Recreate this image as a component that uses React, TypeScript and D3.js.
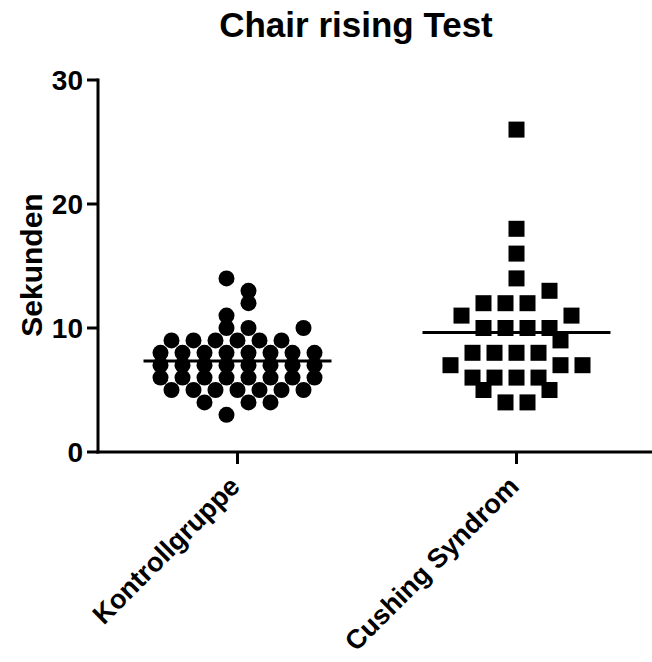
import React from "react";
import * as d3 from "d3";

// Chair rising test times (seconds) per group, in data-entry order
const groups = ["Kontrollgruppe", "Cushing Syndrom"];
const kontrollgruppe = [
  3, 4, 4, 4,
  5, 5, 5, 5, 5, 5, 5,
  6, 6, 6, 6, 6, 6, 6, 6,
  7, 7, 7, 7, 7, 7, 7, 7,
  8, 8, 8, 8, 8, 8, 8, 8,
  9, 9, 9, 9, 9, 9,
  10, 10, 10,
  11, 12, 14, 13,
];
const cushingSyndrom = [
  4, 4, 5, 5,
  6, 6, 6, 6, 7, 7, 7,
  8, 8, 8, 8, 9,
  10, 10, 10, 10, 11, 11,
  12, 12, 12, 13,
  14, 16, 18, 26,
];
const yTicks = [0, 10, 20, 30];
const title = "Chair rising Test";
const yLabel = "Sekunden";

const W = 652;
const H = 662;
const FONT = "'Liberation Sans', Arial, Helvetica, sans-serif";

const SYMBOL = 16; // symbol size in px
const SLOT = 22; // horizontal spacing between neighbouring symbols
const BAND_CAP = 7; // most symbols one band takes before overflowing

type Placed = { v: number; dx: number };

// Column scatter layout: values within one symbol height of a band's first
// value join that band (up to BAND_CAP symbols, the overflow gets its own
// band); each band is spread symmetrically from the column centre outward.
function scatterLayout(values: number[], tol: number): Placed[] {
  const byValue = d3
    .groups(
      values.map((v, i) => ({ v, i })),
      (d) => d.v
    )
    .sort((a, b) => a[0] - b[0]);

  const bands: { v: number; i: number }[][] = [];
  let k = 0;
  while (k < byValue.length) {
    const start = byValue[k][0];
    const main = [...byValue[k][1]];
    const rest: { v: number; i: number }[] = [];
    k++;
    while (k < byValue.length && byValue[k][0] - start <= tol) {
      for (const p of byValue[k][1]) {
        if (main.length < BAND_CAP) main.push(p);
        else rest.push(p);
      }
      k++;
    }
    bands.push(main);
    if (rest.length) bands.push(rest);
  }

  const out: Placed[] = [];
  for (const band of bands) {
    band.sort((a, b) => a.i - b.i);
    const n = band.length;
    band.forEach((p, j) => {
      let slot: number;
      if (n % 2 === 1) {
        slot = j === 0 ? 0 : j % 2 === 1 ? -Math.ceil(j / 2) : Math.ceil(j / 2);
      } else {
        const m = Math.floor(j / 2) + 0.5;
        slot = j % 2 === 0 ? -m : m;
      }
      out.push({ v: p.v, dx: slot * SLOT });
    });
  }
  return out;
}

export default function App() {
  const x = d3.scalePoint<string>().domain(groups).range([98, 656]).padding(0.5);
  const y = d3.scaleLinear().domain([0, 30]).range([452, 80]);
  const tol = SYMBOL / (y(0) - y(1));

  const series = [
    { name: groups[0], values: kontrollgruppe, shape: "circle" },
    { name: groups[1], values: cushingSyndrom, shape: "square" },
  ];

  const x0 = x.range()[0];
  const [yBottom, yTop] = y.range();

  return (
    <svg
      width={W}
      height={H}
      viewBox={`0 0 ${W} ${H}`}
      style={{ position: "absolute", left: 0, top: 0, background: "#fff" }}
      fontFamily={FONT}
    >
      <rect width={W} height={H} fill="#fff" />
      <text x={356} y={37} textAnchor="middle" fontSize={35} fontWeight="bold">
        {title}
      </text>

      {/* y axis */}
      <line x1={x0} x2={x0} y1={yTop - 1.5} y2={yBottom + 1.5} stroke="#000" strokeWidth={3} />
      {yTicks.map((t) => (
        <g key={t}>
          <line x1={x0 - 11} x2={x0} y1={y(t)} y2={y(t)} stroke="#000" strokeWidth={3} />
          <text
            x={x0 - 15}
            y={y(t)}
            dy="0.36em"
            textAnchor="end"
            fontSize={28}
            fontWeight="bold"
          >
            {t}
          </text>
        </g>
      ))}
      <text
        transform={`translate(42, 265) rotate(-90)`}
        textAnchor="middle"
        fontSize={30}
        fontWeight="bold"
      >
        {yLabel}
      </text>

      {/* x axis */}
      <line x1={x0 - 1.5} x2={W} y1={yBottom} y2={yBottom} stroke="#000" strokeWidth={3} />
      {groups.map((g) => (
        <g key={g}>
          <line
            x1={x(g)!}
            x2={x(g)!}
            y1={yBottom}
            y2={yBottom + 12}
            stroke="#000"
            strokeWidth={3}
          />
          <text
            transform={`translate(${x(g)! + 4}, ${yBottom + 36}) rotate(-45)`}
            textAnchor="end"
            fontSize={27}
            fontWeight="bold"
          >
            {g}
          </text>
        </g>
      ))}

      {/* points and means */}
      {series.map((s) => {
        const cx = x(s.name)!;
        const pts = scatterLayout(s.values, tol);
        const mean = d3.mean(s.values)!;
        return (
          <g key={s.name}>
            {pts.map((p, i) =>
              s.shape === "circle" ? (
                <circle key={i} cx={cx + p.dx} cy={y(p.v)} r={SYMBOL / 2} fill="#000" />
              ) : (
                <rect
                  key={i}
                  x={cx + p.dx - SYMBOL / 2}
                  y={y(p.v) - SYMBOL / 2}
                  width={SYMBOL}
                  height={SYMBOL}
                  fill="#000"
                />
              )
            )}
            <line
              x1={cx - 94}
              x2={cx + 94}
              y1={y(mean)}
              y2={y(mean)}
              stroke="#000"
              strokeWidth={3}
            />
          </g>
        );
      })}
    </svg>
  );
}
